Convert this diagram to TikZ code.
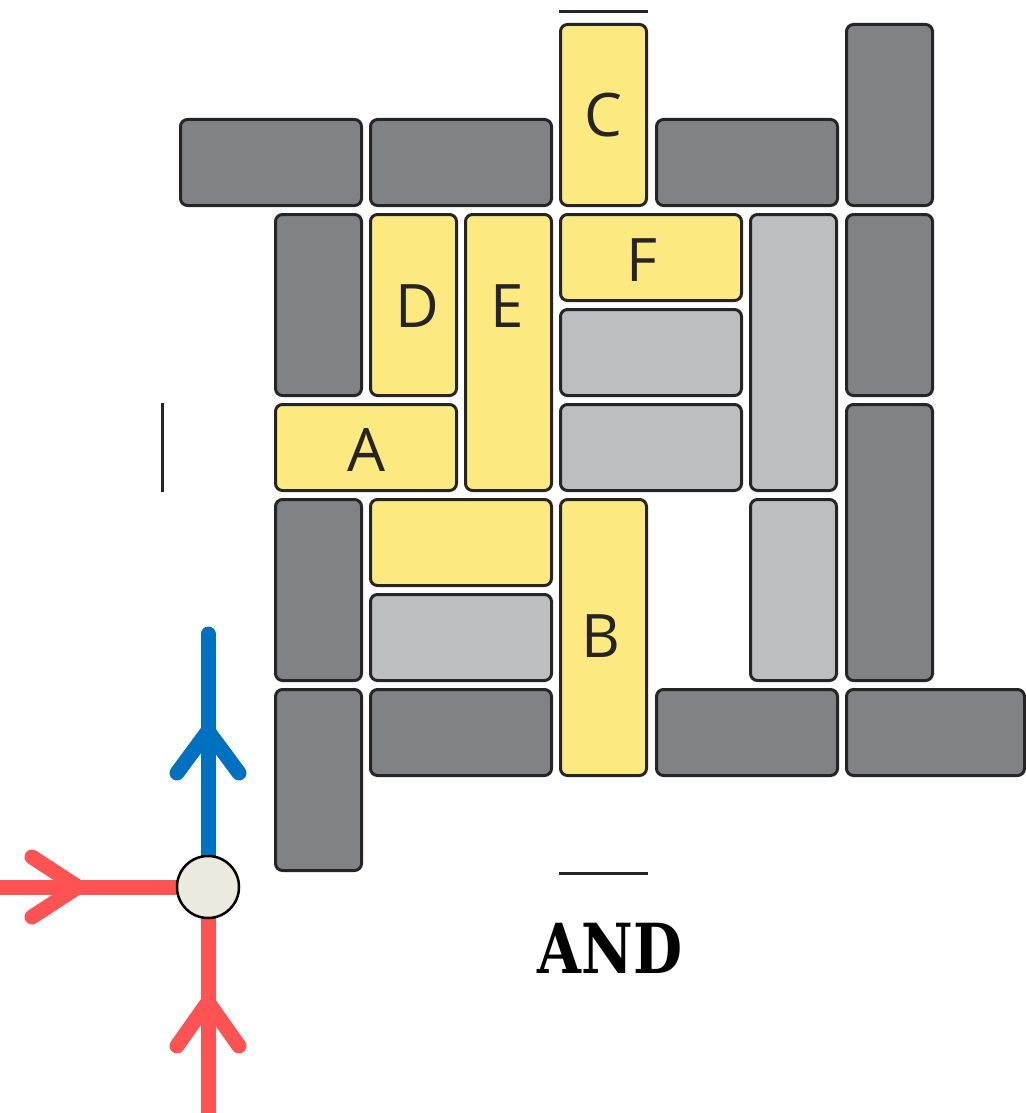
\documentclass[tikz,border=0pt]{standalone}
\usepackage{fontspec}
\newfontfamily\brickfont{Open Sans}
\newfontfamily\titlefont{DejaVu Serif}
\definecolor{edge}{HTML}{262425}
\definecolor{darkbrick}{HTML}{808285}
\definecolor{lightbrick}{HTML}{BCBEC0}
\definecolor{goldbrick}{HTML}{FCEA81}
\definecolor{pivot}{HTML}{ECEADF}
\definecolor{upblue}{HTML}{0070C0}
\definecolor{inred}{HTML}{FF5252}
\pgfdeclarelayer{wires}
\pgfsetlayers{wires,main}
\tikzset{
  brick/.style={draw=edge, line width=3pt, rounded corners=7pt, inner sep=0pt},
  dark/.style={brick, fill=darkbrick},
  light/.style={brick, fill=lightbrick},
  gold/.style={brick, fill=goldbrick},
  tag/.style={font=\brickfont\fontsize{60}{60}\selectfont, text=edge, inner sep=0pt},
  marker/.style={draw=edge, line width=3pt},
  wire/.style={line width=15pt, line cap=round, line join=round},
  chevron/.style={line width=15pt, line cap=round, line join=miter},
  junction/.style={circle, draw=black, line width=2.5pt, fill=pivot, minimum size=62pt, inner sep=0pt},
}
% \brick{name}{style}{x1}{y1}{x2}{y2}: a rounded brick filling the box
\newcommand\brick[6]{%
  \node[#2, minimum width={#5-#3-3pt}, minimum height={#6-#4-3pt}]
    (#1) at ({(#3+#5)/2},{(#4+#6)/2}) {};}
\begin{document}
\begin{tikzpicture}[x=1pt,y=-1pt]
\useasboundingbox (0,0) rectangle (1025,1113);

% top row
\brick{t1}{dark}{179}{118}{363}{207}
\brick{t2}{dark}{369}{118}{553}{207}
\brick{c}{gold}{559}{23}{648}{207}
\brick{t3}{dark}{655}{118}{839}{207}
\brick{t4}{dark}{845}{23}{934}{207}

% second band
\brick{l1}{dark}{274}{213}{363}{397}
\brick{d}{gold}{369}{213}{458}{397}
\brick{e}{gold}{464}{213}{553}{492}
\brick{f}{gold}{559}{213}{743}{302}
\brick{g1}{light}{749}{213}{838}{492}
\brick{r1}{dark}{845}{213}{934}{397}
\brick{g2}{light}{559}{308}{743}{397}

% third band
\brick{a}{gold}{274}{403}{458}{492}
\brick{g3}{light}{559}{403}{743}{492}
\brick{r2}{dark}{845}{403}{934}{682}

% fourth band
\brick{l2}{dark}{274}{498}{363}{682}
\brick{y1}{gold}{369}{498}{553}{587}
\brick{b}{gold}{559}{498}{648}{777}
\brick{g4}{light}{749}{498}{838}{682}
\brick{g5}{light}{369}{593}{553}{682}

% bottom row
\brick{l3}{dark}{274}{688}{363}{872}
\brick{u1}{dark}{369}{688}{553}{777}
\brick{u2}{dark}{655}{688}{839}{777}
\brick{u3}{dark}{845}{688}{1026}{777}

% letters
\node[tag] (lc) at (603,115) {C};
\node[tag] (ld) at (417,306) {D};
\node[tag] (le) at (507,306) {E};
\node[tag] (lf) at (642,260) {F};
\node[tag] (la) at (366,450) {A};
\node[tag] (lb) at (601,636) {B};

% boundary ticks
\coordinate (tt1) at (559,12);  \coordinate (tt2) at (648,12);
\coordinate (lt1) at (162,403); \coordinate (lt2) at (162,492);
\coordinate (bt1) at (559,873); \coordinate (bt2) at (648,873);
\draw[marker] (tt1) -- (tt2);
\draw[marker] (lt1) -- (lt2);
\draw[marker] (bt1) -- (bt2);

% junction with its three wires
\node[junction] (hub) at (208,887) {};
\coordinate (outend) at (208,634);
\coordinate (westend) at (-10,887);
\coordinate (southend) at (208,1125);
\begin{pgfonlayer}{wires}
\draw[wire, upblue] (hub.center) -- (outend);
\draw[chevron, upblue] (177,773) -- (208,731) -- (239,773);
\draw[wire, inred] (westend) -- (hub.center);
\draw[chevron, inred] (32,857) -- (78,887) -- (32,917);
\draw[wire, inred] (southend) -- (hub.center);
\draw[chevron, inred] (177,1046) -- (208,1002) -- (239,1046);
\end{pgfonlayer}

% caption
\node[font=\titlefont\bfseries\fontsize{69}{69}\selectfont, xscale=0.82, transform shape, inner sep=0pt] (cap) at (610,948) {AND};
\end{tikzpicture}
\end{document}
